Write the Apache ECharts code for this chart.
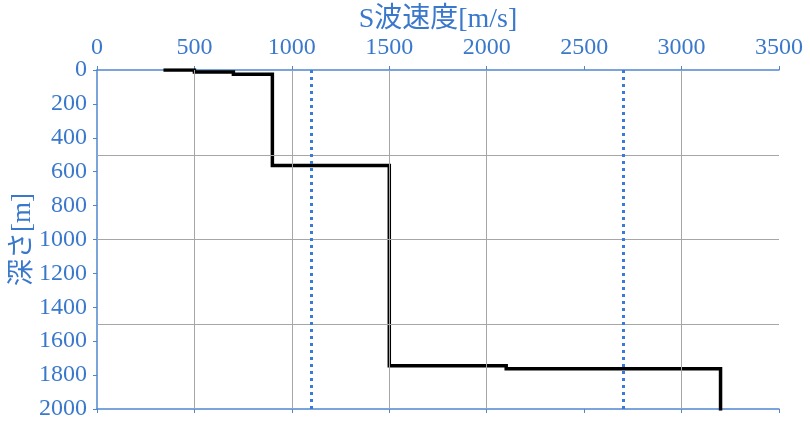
<!DOCTYPE html>
<html>
<head>
<meta charset="utf-8">
<script src="https://cdn.jsdelivr.net/npm/echarts@6/dist/echarts.min.js"></script>
<style>html,body{margin:0;padding:0;background:#fff}#c{width:810px;height:426px}</style>
</head>
<body>
<div id="c"></div>
<script>
// S-wave velocity profile (velocity [m/s], depth [m]) step points
const profileVs    = [350, 500, 500, 700, 700, 900, 900, 1500, 1500, 2100, 2100, 3200, 3200];
const profileDepth = [0,   0,   12,  12,  25,  25,  563, 563,  1745, 1745, 1762, 1762, 2000];
// reference velocity lines (dotted)
const refVs = [1100, 2700];
// gridlines
const vGrid = [500, 1000, 1500, 2000, 3000];
const hGrid = [500, 1000, 1500];
const xTicks = [0, 3500, 500];
const yTicks = [0, 2000, 200];

const blue = '#3a78cc';
const font = '"Liberation Serif", "Times New Roman", "Noto Sans CJK JP", serif';
const chart = echarts.init(document.getElementById('c'));
const axisCommon = {
  type: 'value',
  axisLine: { show: true, lineStyle: { color: '#4f86cf', width: 1.5 } },
  axisTick: { show: true, length: 4, lineStyle: { color: '#4f86cf' } },
  splitLine: { show: false },
  nameMoveOverlap: false
};
const fmt = v => String(v);
chart.setOption({
  animation: false,
  grid: { left: 97, right: 31, top: 70, bottom: 17, containLabel: false, outerBoundsMode: 'none' },
  xAxis: [
    Object.assign({}, axisCommon, {
      position: 'top', min: xTicks[0], max: xTicks[1], interval: xTicks[2],
      name: 'S波速度[m/s]', nameLocation: 'middle', nameGap: 36,
      nameTextStyle: { color: blue, fontSize: 28, fontFamily: font },
      axisLabel: { color: blue, fontSize: 24, fontFamily: font, margin: 10, formatter: fmt }
    }),
    Object.assign({}, axisCommon, {
      position: 'bottom', min: xTicks[0], max: xTicks[1], interval: xTicks[2],
      axisLabel: { show: false }
    })
  ],
  yAxis: Object.assign({}, axisCommon, {
    inverse: true, min: yTicks[0], max: yTicks[1], interval: yTicks[2],
    name: '深さ[m]', nameLocation: 'middle', nameGap: 61, nameRotate: 90,
    nameTextStyle: { color: blue, fontSize: 27, fontFamily: font },
    axisLabel: { color: blue, fontSize: 24, fontFamily: font, margin: 10, formatter: fmt }
  }),
  series: [
    {
      type: 'line', data: [], silent: true, z: 1,
      markLine: {
        silent: true, symbol: ['none', 'none'], label: { show: false },
        lineStyle: { color: '#a6a6a6', width: 1, type: 'solid' },
        data: vGrid.map(v => ({ xAxis: v })).concat(hGrid.map(v => ({ yAxis: v })))
      }
    },
    {
      type: 'line', z: 3, showSymbol: false, symbol: 'none',
      data: profileVs.map((v, i) => [v, profileDepth[i]]),
      lineStyle: { color: '#000', width: 3.5, join: 'miter', cap: 'square' }
    },
    {
      type: 'line', data: [], silent: true, z: 5,
      markLine: {
        silent: true, symbol: ['none', 'none'], label: { show: false },
        lineStyle: { color: '#3a7ad8', width: 3, type: [3, 4] },
        data: refVs.map(v => ({ xAxis: v }))
      }
    }
  ]
});
</script>
</body>
</html>
